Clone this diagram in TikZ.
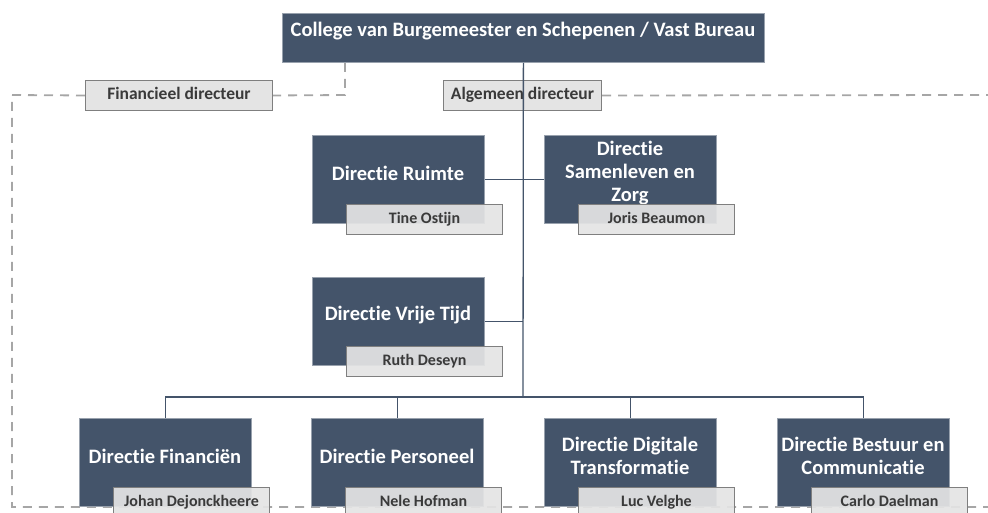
\documentclass[tikz,border=0pt]{standalone}
\usepackage{fontspec}
\setmainfont{Carlito}[Ligatures={NoCommon}]
\usetikzlibrary{backgrounds,calc}
\definecolor{dk}{HTML}{44546A}
\definecolor{nm}{HTML}{E4E4E4}
\definecolor{nmb}{HTML}{7F7F7F}
\definecolor{nt}{HTML}{3A3A3A}
\definecolor{dsh}{HTML}{A6A6A6}
\newcommand{\Directie}[5]{%
  \node[dkbox] (#1) at (#2,#3) {};
  \node[dktext] (#1-t) at ($(#2,#3)+(86,38)$) {#4};
  \node[namebox] (#1-n) at ($(#2,#3)+(34,69)$) {#5};
}
\begin{document}
\begin{tikzpicture}[x=1pt,y=-1pt,
  dkbox/.style={fill=dk, draw=dk!55!white, line width=0.8pt, minimum width=172pt, minimum height=88pt, inner sep=0pt, anchor=north west},
  dktext/.style={text=white, font=\bfseries\fontsize{20.5}{23}\selectfont, align=center, inner sep=0pt},
  namebox/.style={fill=nm, draw=nmb, line width=1pt, fill opacity=0.93, text opacity=1, minimum width=156pt, minimum height=30pt, inner sep=0pt, anchor=north west, text=nt, text height=1.5ex, text depth=0pt, font=\bfseries\fontsize{16}{18}\selectfont},
  graybox/.style={fill=nm, draw=nmb, line width=1pt, minimum height=30pt, inner sep=0pt, anchor=north west, text=nt, text height=1.5ex, text depth=0pt, font=\bfseries\fontsize{17.5}{20}\selectfont},
  conn/.style={draw=dk, line width=1.3pt},
  dline/.style={draw=dsh, line width=1.8pt, dash pattern=on 9pt off 7pt}
]
\useasboundingbox (0,0) rectangle (988,513);

% top
\node[fill=dk, draw=dk!55!white, line width=0.8pt, minimum width=482pt, minimum height=49pt, anchor=north west] (top) at (282,13) {};
\node[dktext] (toptext) at (523,31.5) {College van Burgemeester en Schepenen / Vast Bureau};

\node[graybox, minimum width=187pt] (findir) at (85,80) {Financieel directeur};
\node[graybox, minimum width=158pt] (algdir) at (443,80) {Algemeen directeur};

% directies
\Directie{ru}{312}{135}{Directie Ruimte}{Tine Ostijn}
\Directie{sa}{544}{135}{Directie\\Samenleven en\\Zorg}{Joris Beaumon}
\Directie{vt}{312}{277}{Directie Vrije Tijd}{Ruth Deseyn}
\Directie{fi}{79}{418}{Directie Financiën}{Johan Dejonckheere}
\Directie{pe}{311}{418}{Directie Personeel}{Nele Hofman}
\Directie{di}{544}{418}{Directie Digitale\\Transformatie}{Luc Velghe}
\Directie{be}{777}{418}{Directie Bestuur en\\Communicatie}{Carlo Daelman}

% dashed lines (background)
\coordinate (d1) at (345,95);
\coordinate (d2) at (12,95);
\coordinate (d3) at (12,507);
\coordinate (d4) at (988,507);
\coordinate (d5) at (988,95);
\begin{scope}[on background layer]
  \draw[dline] (top.south -| d1) -- (d1) -- (findir.east);
  \draw[dline] (findir.west) -- (d2) -- (d3) -- (d4);
  \draw[dline] (algdir.east) -- (d5);
\end{scope}

% solid connectors
\coordinate (bus) at (523,397);
\draw[conn] (top.south) -- (bus);
\draw[conn] (ru.east) -- (ru.east -| bus);
\draw[conn] (sa.west) -- (sa.west -| bus);
\draw[conn] (vt.east) -- (vt.east -| bus);
\draw[conn] (fi.north) |- (bus);
\draw[conn] (pe.north) -- (pe.north |- bus);
\draw[conn] (di.north) -- (di.north |- bus);
\draw[conn] (be.north) |- (bus);
\end{tikzpicture}
\end{document}
